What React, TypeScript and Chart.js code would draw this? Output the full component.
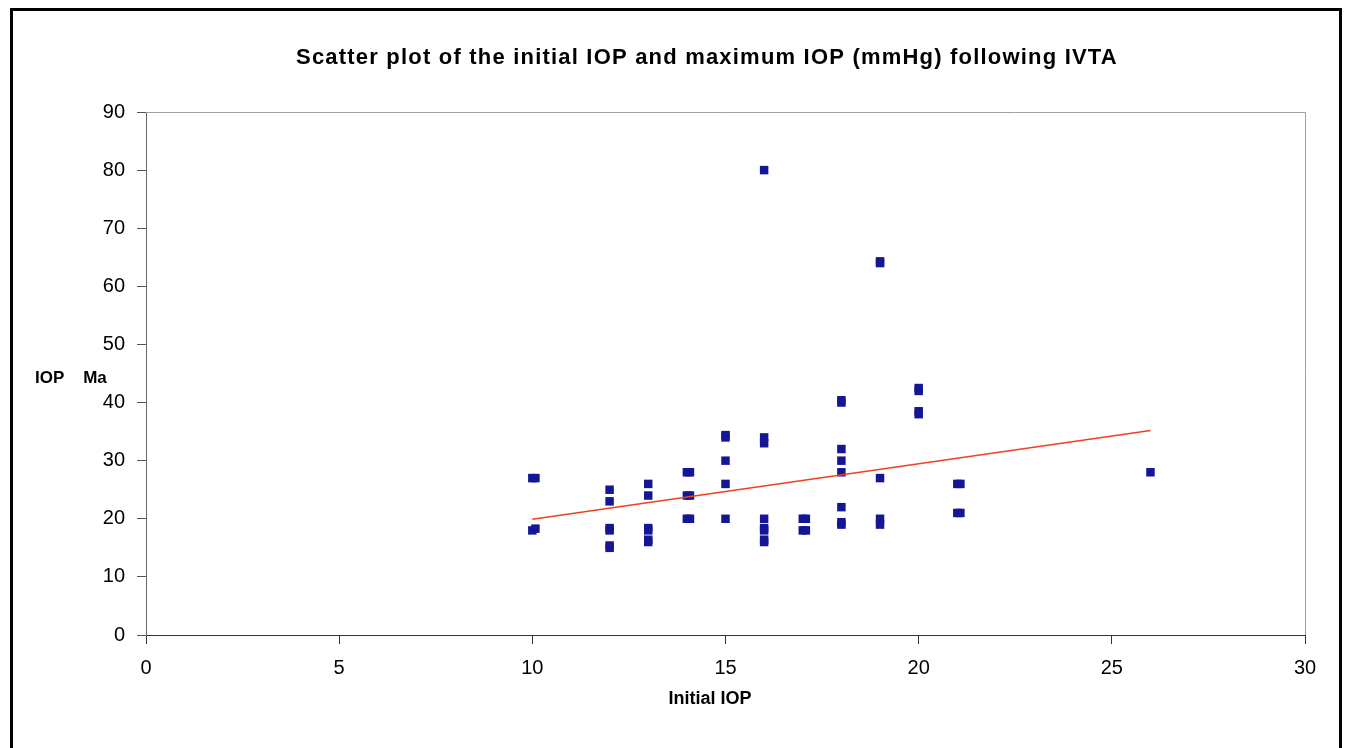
import React, { useEffect, useRef } from "react";
import { Chart, registerables } from "chart.js";

Chart.register(...registerables);

const FONT = "Arial, 'Liberation Sans', sans-serif";

const titleText = "Scatter plot of the initial IOP and maximum IOP (mmHg) following IVTA";
const xAxisTitle = "Initial IOP";
const yAxisTitle = "IOP    Ma";

const xTicks = [0, 5, 10, 15, 20, 25, 30];
const yTicks = [0, 10, 20, 30, 40, 50, 60, 70, 80, 90];

// Initial IOP (x) and maximum IOP (y)
const initialIOP = [
  10, 10.08, 10, 10.08,
  12, 12, 12, 12, 12, 12,
  13, 13, 13, 13, 13, 13,
  14, 14.08, 14, 14.08, 14, 14.08,
  15, 15, 15, 15, 15,
  16, 16, 16, 16, 16, 16, 16, 16,
  17, 17.08, 17, 17.08,
  18, 18, 18, 18, 18, 18, 18, 18,
  19, 19, 19, 19, 19,
  20, 20, 20, 20,
  21, 21.08, 21, 21.08,
  26,
];
const maxIOP = [
  27, 27, 18, 18.3,
  25, 23, 18, 18.4, 15, 15.4,
  26, 24, 18, 18.4, 16, 16.4,
  28, 28, 24, 24, 20, 20,
  34, 34.4, 30, 26, 20,
  80, 34, 33, 20, 18, 18.4, 16, 16.4,
  20, 20, 18, 18,
  40, 40.4, 32, 30, 28, 22, 19, 19.4,
  64, 64.3, 27, 20, 19,
  42, 42.5, 38, 38.5,
  26, 26, 21, 21,
  28,
];

// Linear trend line end points
const trendX = [10, 26];
const trendY = [19.9, 35.2];

const CANVAS_W = 1326;
const CANVAS_H = 760;

const decor = {
  id: "decor",
  beforeDatasetsDraw(chart: any) {
    const { ctx, chartArea } = chart;
    const { left, top, right, bottom } = chartArea;
    ctx.save();
    ctx.strokeStyle = "#a0a0a0";
    ctx.lineWidth = 1;
    ctx.beginPath();
    ctx.moveTo(left, Math.round(top) + 0.5);
    ctx.lineTo(Math.round(right) + 0.5, Math.round(top) + 0.5);
    ctx.lineTo(Math.round(right) + 0.5, bottom);
    ctx.stroke();
    ctx.restore();
  },
  afterDraw(chart: any) {
    const { ctx } = chart;
    ctx.save();
    ctx.fillStyle = "#000";
    ctx.textBaseline = "middle";
    ctx.textAlign = "center";
    ctx.font = `bold 22px ${FONT}`;
    try {
      (ctx as any).letterSpacing = "1.2px";
    } catch (e) {}
    ctx.fillText(titleText, 694, 47);
    try {
      (ctx as any).letterSpacing = "0px";
    } catch (e) {}
    ctx.font = `bold 18px ${FONT}`;
    ctx.fillText(xAxisTitle, 697, 688);
    ctx.font = `bold 17px ${FONT}`;
    ctx.textAlign = "left";
    ctx.fillText(yAxisTitle, 22, 367);
    ctx.restore();
  },
};

export default function App() {
  const ref = useRef<HTMLCanvasElement>(null);
  useEffect(() => {
    document.documentElement.style.overflow = "hidden";
    const points = initialIOP.map((x, i) => ({ x, y: maxIOP[i] }));
    const trend = trendX.map((x, i) => ({ x, y: trendY[i] }));
    const chart = new Chart(ref.current!, {
      type: "scatter",
      data: {
        datasets: [
          {
            label: "IOP",
            data: points,
            pointStyle: "rect",
            pointRadius: 6,
            backgroundColor: "#141694",
            borderColor: "#141694",
            borderWidth: 0,
            order: 2,
          },
          {
            label: "Trend",
            type: "line",
            data: trend,
            borderColor: "#f0401e",
            borderWidth: 1.5,
            pointRadius: 0,
            fill: false,
            order: 1,
          } as any,
        ],
      },
      options: {
        responsive: false,
        animation: false,
        devicePixelRatio: 1,
        layout: { padding: { left: 0, top: 101, right: 34, bottom: CANVAS_H - 624 - 40 } },
        plugins: {
          legend: { display: false },
          title: { display: false },
          tooltip: { enabled: false },
        },
        scales: {
          x: {
            type: "linear",
            min: 0,
            max: 30,
            afterBuildTicks: (s: any) => {
              s.ticks = xTicks.map((v) => ({ value: v }));
            },
            afterFit: (s: any) => {
              s.height = 40;
            },
            grid: {
              drawOnChartArea: false,
              drawTicks: true,
              tickLength: 9,
              color: "#333",
            },
            border: { color: "#333", width: 1 },
            ticks: {
              color: "#000",
              font: { family: FONT, size: 20 },
              padding: 12,
              maxRotation: 0,
            },
          },
          y: {
            type: "linear",
            min: 0,
            max: 90,
            afterBuildTicks: (s: any) => {
              s.ticks = yTicks.map((v) => ({ value: v }));
            },
            afterFit: (s: any) => {
              s.width = 133;
            },
            grid: {
              drawOnChartArea: false,
              drawTicks: true,
              tickLength: 9,
              color: "#555",
            },
            border: { color: "#666", width: 1 },
            ticks: {
              color: "#000",
              font: { family: FONT, size: 20 },
              padding: 12,
            },
          },
        },
      },
      plugins: [decor],
    });
    return () => chart.destroy();
  }, []);
  return (
    <>
      <style>{`html,body{margin:0;padding:0;overflow:hidden;}`}</style>
      <div
        style={{
          position: "fixed",
          left: 10,
          top: 8,
          width: CANVAS_W,
          height: CANVAS_H,
          border: "3px solid #000",
          background: "#fff",
        }}
      >
        <canvas ref={ref} width={CANVAS_W} height={CANVAS_H} style={{ display: "block" }} />
      </div>
    </>
  );
}
